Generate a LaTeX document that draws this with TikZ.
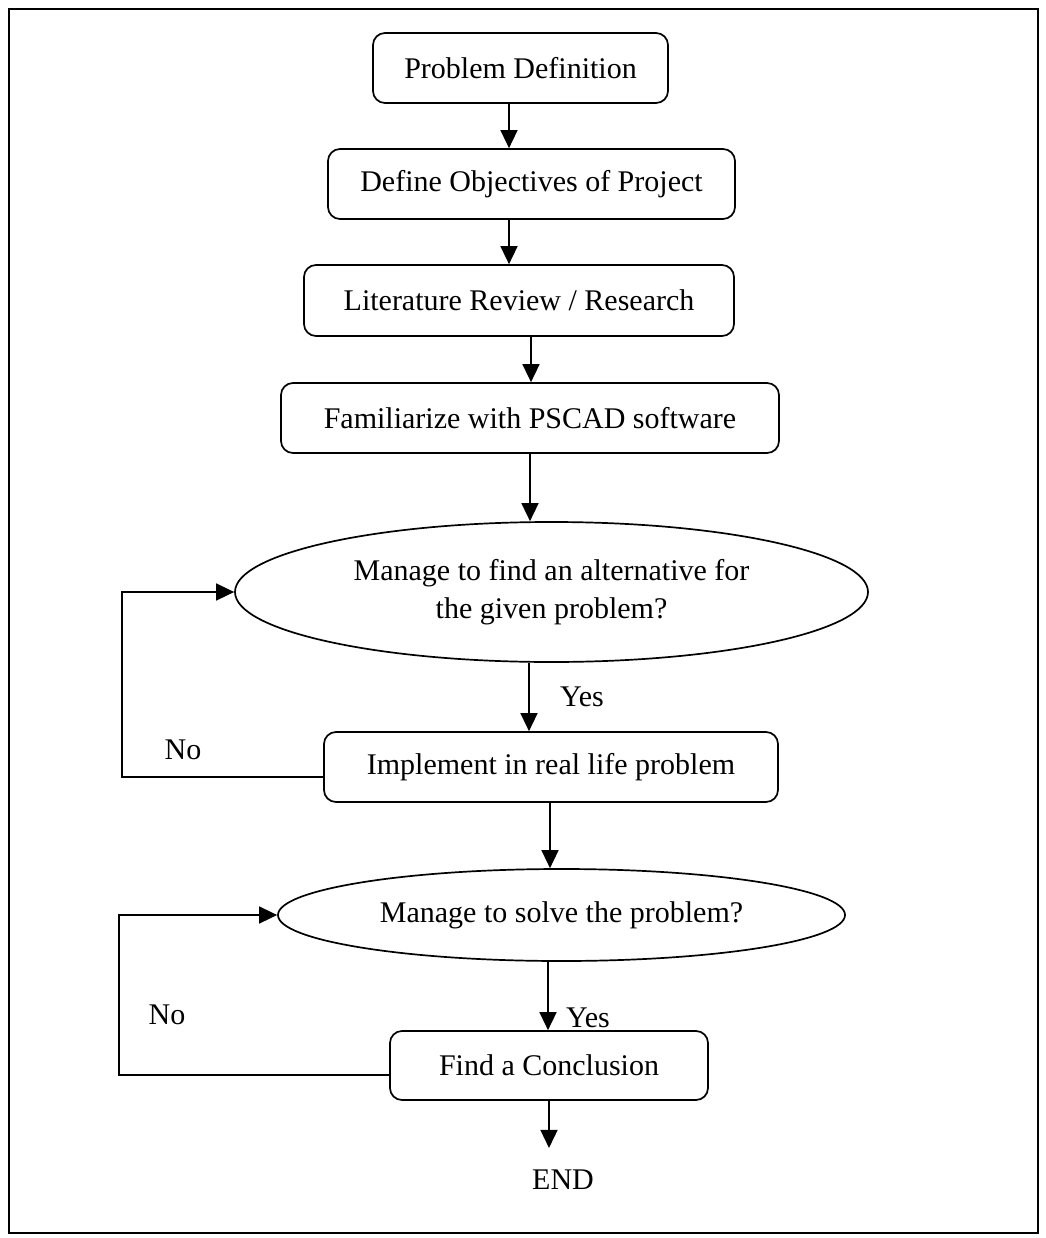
\documentclass[tikz,border=0pt]{standalone}
\usepackage{fontspec}
\setmainfont{Liberation Serif}
\usetikzlibrary{shapes.geometric,arrows.meta}
\begin{document}
\begin{tikzpicture}[x=1pt,y=-1pt,
  txt/.style={font=\fontsize{30}{38}\selectfont},
  proc/.style={txt, draw, line width=1.7pt, rounded corners=12pt, inner sep=0pt},
  dec/.style={txt, draw, ellipse, line width=1.7pt, inner sep=0pt, align=center},
  arr/.style={line width=1.5pt, -{Triangle[length=18pt,width=17pt]}},
  lbl/.style={txt, inner sep=0pt}]
\useasboundingbox (0,0) rectangle (1045,1238);
\draw[line width=2.2pt] (9,9) rectangle (1038,1233);

\node[proc, minimum width=295pt, minimum height=70pt] (n1) at (520.5,68) {Problem Definition};
\node[proc, minimum width=407pt, minimum height=70pt] (n2) at (531.5,184) {Define Objectives of Project};
\node[proc, minimum width=430pt, minimum height=71pt] (n3) at (519,300.5) {Literature Review / Research};
\node[proc, minimum width=498pt, minimum height=70pt] (n4) at (530,418) {Familiarize with PSCAD software};
\node[dec, minimum width=633pt, minimum height=140pt] (e1) at (551.5,592) {Manage to find an alternative for\\the given problem?};
\node[proc, minimum width=454pt, minimum height=70pt] (n5) at (551,767) {Implement in real life problem};
\node[dec, minimum width=567pt, minimum height=92pt] (e2) at (561.5,915) {Manage to solve the problem?};
\node[proc, minimum width=318pt, minimum height=69pt] (n6) at (549,1065.5) {Find a Conclusion};
\node[lbl] (end) at (563,1180) {END};

\node[lbl] (yes1) at (582,697) {Yes};
\node[lbl] (yes2) at (588,1018) {Yes};
\node[lbl] (no1) at (183,750) {No};
\node[lbl] (no2) at (167,1015) {No};

\draw[arr] (509,0 |- n1.south) -- (509,0 |- n2.north);
\draw[arr] (509,0 |- n2.south) -- (509,0 |- n3.north);
\draw[arr] (531,0 |- n3.south) -- (531,0 |- n4.north);
\draw[arr] (530,0 |- n4.south) -- (530,0 |- e1.north);
\draw[arr] (529,0 |- e1.south) -- (529,0 |- n5.north);
\draw[arr] (550,0 |- n5.south) -- (550,0 |- e2.north);
\draw[arr] (548,0 |- e2.south) -- (548,0 |- n6.north);
\draw[arr, shorten >=22pt] (549,0 |- n6.south) -- (549,0 |- end.north);

\draw[arr] (n5.west |- 0,777) -- (122,777) -- (122,0 |- e1.west) -- (e1.west);
\draw[arr] (n6.west |- 0,1075) -- (119,1075) -- (119,0 |- e2.west) -- (e2.west);
\end{tikzpicture}
\end{document}
